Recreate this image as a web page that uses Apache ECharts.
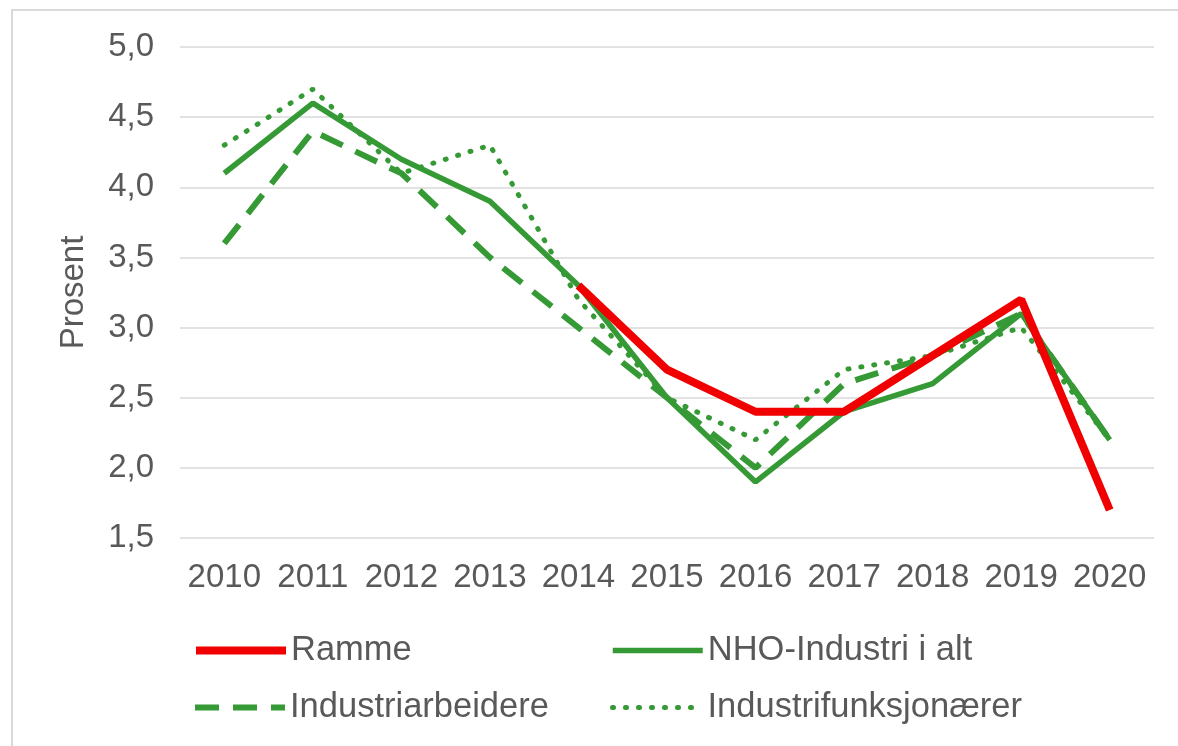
<!DOCTYPE html>
<html>
<head>
<meta charset="utf-8">
<script src="https://cdn.jsdelivr.net/npm/echarts@6/dist/echarts.min.js"></script>
<style>
  html, body { margin: 0; padding: 0; background: #fff; }
  #chart { width: 1178px; height: 746px; }
</style>
</head>
<body>
<div id="chart"></div>
<script>
// år
var years = ['2010', '2011', '2012', '2013', '2014', '2015', '2016', '2017', '2018', '2019', '2020'];
// lønnsvekst, prosent
var ramme = [null, null, null, null, 3.3, 2.7, 2.4, 2.4, 2.8, 3.2, 1.7];
var nhoIndustri = [4.1, 4.6, 4.2, 3.9, 3.3, 2.5, 1.9, 2.4, 2.6, 3.1, 2.2];
var industriarbeidere = [3.6, 4.4, 4.1, 3.5, 3.0, 2.5, 2.0, 2.6, 2.8, 3.1, 2.2];
var industrifunksjonaerer = [4.3, 4.7, 4.1, 4.3, 3.2, 2.5, 2.2, 2.7, 2.8, 3.0, 2.2];

var red = '#f00000';
var green = '#359a35';
var textColor = '#595959';
var font = 'Liberation Sans, Arial, sans-serif';
var fontSize = 33;

var myChart = echarts.init(document.getElementById('chart'));

function legendAt(name, left, top, width) {
  return {
    data: [name],
    left: left,
    top: top,
    padding: 0,
    itemWidth: 90,
    itemHeight: 14,
    itemGap: 0,
    selectedMode: false,
    itemStyle: { opacity: 0, color: 'rgba(0,0,0,0)', borderWidth: 0 },
    lineStyle: { width: width },
    textStyle: { color: textColor, fontSize: 34.5, fontFamily: font, padding: [0, 0, 0, 0] }
  };
}

var option = {
  animation: false,
  graphic: [{
    type: 'rect',
    shape: { x: 12, y: 10, width: 1190, height: 760 },
    style: { fill: 'none', stroke: '#d9d9d9', lineWidth: 2 }
  }],
  legend: [
    legendAt('Ramme', 192, 633, 8),
    legendAt('NHO-Industri i alt', 610, 633, 5.5),
    legendAt('Industriarbeidere', 192, 690, 6),
    legendAt('Industrifunksjonærer', 610, 690, 5)
  ],
  grid: {
    left: 180,
    right: 24,
    top: 47,
    bottom: 208
  },
  xAxis: {
    type: 'category',
    boundaryGap: true,
    data: years,
    axisLine: { show: false },
    axisTick: { show: false },
    axisLabel: { interval: 0, color: textColor, fontSize: fontSize, fontFamily: font, margin: 23 }
  },
  yAxis: {
    type: 'value',
    min: 1.5,
    max: 5,
    interval: 0.5,
    name: 'Prosent',
    nameLocation: 'middle',
    nameGap: 90,
    nameTextStyle: { color: textColor, fontSize: fontSize, fontFamily: font },
    axisLine: { show: false },
    axisTick: { show: false },
    splitLine: { lineStyle: { color: '#d9d9d9', width: 1.5 } },
    axisLabel: {
      color: textColor,
      fontSize: fontSize,
      fontFamily: font,
      margin: 26,
      formatter: function (value) {
        return value.toFixed(1).replace('.', ',');
      }
    }
  },
  series: [
    {
      name: 'Industrifunksjonærer',
      type: 'line',
      symbol: 'none',
      data: industrifunksjonaerer,
      itemStyle: { color: green },
      lineStyle: { color: green, width: 5, type: [1, 12], cap: 'round' }
    },
    {
      name: 'Industriarbeidere',
      type: 'line',
      symbol: 'none',
      data: industriarbeidere,
      itemStyle: { color: green },
      lineStyle: { color: green, width: 6, type: [24, 14] }
    },
    {
      name: 'NHO-Industri i alt',
      type: 'line',
      symbol: 'none',
      data: nhoIndustri,
      itemStyle: { color: green },
      lineStyle: { color: green, width: 5.5 }
    },
    {
      name: 'Ramme',
      type: 'line',
      symbol: 'none',
      data: ramme,
      itemStyle: { color: red },
      lineStyle: { color: red, width: 8 }
    }
  ]
};
myChart.setOption(option);
</script>
</body>
</html>
